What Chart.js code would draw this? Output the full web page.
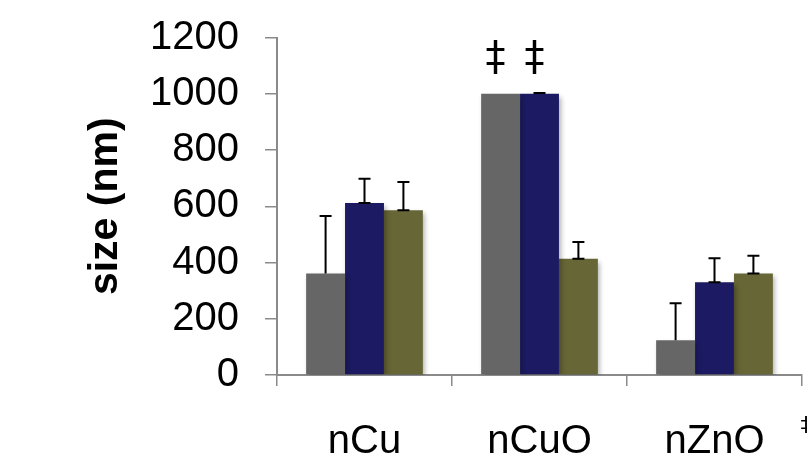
<!DOCTYPE html>
<html>
<head>
<meta charset="utf-8">
<script src="https://cdn.jsdelivr.net/npm/chart.js@4/dist/chart.umd.min.js"></script>
<style>
  html, body { margin: 0; padding: 0; background: #ffffff; overflow: hidden; }
  #wrap { position: relative; width: 807px; height: 464px; }
  canvas { display: block; }
</style>
</head>
<body>
<div id="wrap"><canvas id="chart" width="807" height="464"></canvas></div>
<script>
// Particle size per nanomaterial, three conditions
const categories = ['nCu', 'nCuO', 'nZnO'];
const seriesA = [361, 1000, 124];
const seriesB = [612, 1000, 330];
const seriesC = [586, 413, 361];
// Upper error (standard deviation) for each bar
const errorA = [204, 0, 131];
const errorB = [86, 3, 85];
const errorC = [100, 60, 63];
// Significance marks: [category index, series index]
const markedBars = [[1, 0], [1, 1]];
const markSymbol = '\u2021';
const yTicks = [0, 200, 400, 600, 800, 1000, 1200];

const FONT = "'Liberation Sans', Arial, Helvetica, sans-serif";
const MARK_FONT = "'DejaVu Sans', sans-serif";
const AXIS_GREY = '#8a8a8a';

const errors = [errorA, errorB, errorC];

const barShadow = {
  id: 'barShadow',
  beforeDatasetDraw(chart) {
    const ctx = chart.ctx;
    ctx.save();
    ctx.shadowColor = 'rgba(0,0,0,0.32)';
    ctx.shadowBlur = 5;
    ctx.shadowOffsetX = 2;
    ctx.shadowOffsetY = 3;
  },
  afterDatasetDraw(chart) {
    chart.ctx.restore();
  }
};

const errorBars = {
  id: 'errorBars',
  afterDatasetsDraw(chart) {
    const ctx = chart.ctx;
    const y = chart.scales.y;
    ctx.save();
    ctx.strokeStyle = '#000000';
    ctx.lineWidth = 2;
    chart.data.datasets.forEach((ds, di) => {
      const meta = chart.getDatasetMeta(di);
      meta.data.forEach((bar, i) => {
        const err = errors[di][i];
        if (!err) return;
        const yTop = y.getPixelForValue(ds.data[i] + err);
        const yBase = y.getPixelForValue(ds.data[i]);
        ctx.beginPath();
        ctx.moveTo(bar.x, yBase);
        ctx.lineTo(bar.x, yTop);
        ctx.moveTo(bar.x - 6, yTop);
        ctx.lineTo(bar.x + 6, yTop);
        if (di > 0 && yBase - yTop > 3) {
          ctx.moveTo(bar.x - 6, yBase);
          ctx.lineTo(bar.x + 6, yBase);
        }
        ctx.stroke();
      });
    });
    // significance symbols above the marked bars
    ctx.fillStyle = '#000000';
    ctx.font = '40px ' + MARK_FONT;
    ctx.textAlign = 'center';
    ctx.textBaseline = 'middle';
    markedBars.forEach(([ci, si]) => {
      const bar = chart.getDatasetMeta(si).data[ci];
      ctx.fillText(markSymbol, bar.x - 5, bar.y - 34);
    });
    // symbol of the key running off the right edge
    ctx.font = '22px ' + MARK_FONT;
    ctx.fillText(markSymbol, 806, 426);
    ctx.restore();
  }
};

new Chart(document.getElementById('chart'), {
  type: 'bar',
  data: {
    labels: categories,
    datasets: [
      { data: seriesA, backgroundColor: '#666666' },
      { data: seriesB, backgroundColor: '#1b1a62' },
      { data: seriesC, backgroundColor: '#676636' }
    ]
  },
  options: {
    responsive: false,
    animation: false,
    devicePixelRatio: 1,
    categoryPercentage: 0.667,
    barPercentage: 1.0,
    layout: { padding: { top: 37.5, right: 5, left: 0, bottom: 0 } },
    plugins: {
      legend: { display: false },
      tooltip: { enabled: false }
    },
    scales: {
      x: {
        afterFit(scale) {
          scale.height = 89;
          scale.paddingLeft = 0;
          scale.paddingRight = 0;
        },
        border: { color: AXIS_GREY, width: 2 },
        grid: { drawOnChartArea: false, color: AXIS_GREY, lineWidth: 1.5, tickLength: 11, offset: true },
        ticks: { color: '#000000', font: { family: FONT, size: 40 }, padding: 32, maxRotation: 0 }
      },
      y: {
        min: 0,
        max: 1200,
        afterFit(scale) {
          scale.width = 277;
          scale.paddingTop = 0;
          scale.paddingBottom = 0;
        },
        afterBuildTicks(scale) { scale.ticks = yTicks.map(v => ({ value: v })); },
        border: { color: AXIS_GREY, width: 2 },
        grid: { drawOnChartArea: false, color: AXIS_GREY, lineWidth: 1.5, tickLength: 12 },
        ticks: {
          color: '#000000',
          font: { family: FONT, size: 40 },
          padding: 26,
          callback: (v) => String(v)
        },
        title: {
          display: true,
          text: 'size (nm)',
          color: '#000000',
          font: { family: FONT, size: 41, weight: 'bold' },
          padding: { top: 81, bottom: 0 }
        }
      }
    }
  },
  plugins: [barShadow, errorBars]
});
</script>
</body>
</html>
